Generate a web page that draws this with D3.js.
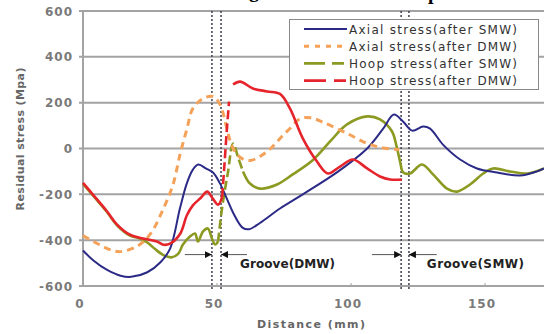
<!DOCTYPE html>
<html>
<head>
<meta charset="utf-8">
<script src="https://cdn.jsdelivr.net/npm/d3@7"></script>
<style>
  body { margin: 0; background: #fff; }
  svg { display: block; }
</style>
</head>
<body>
<div id="viz"></div>
<script>
// chart size
var width = 544, height = 334;

// data
var seriesNames = ["Axial stress(after SMW)", "Axial stress(after DMW)", "Hoop stress(after SMW)", "Hoop stress(after DMW)"];

var axialSmwX = [0, 4, 9, 14, 18, 24, 29, 32.5, 36.2, 38.8, 41, 43, 46, 48.5, 51, 53.7, 56, 59.5, 62, 66, 73.5, 82, 95, 106, 112, 116, 119.4, 122.8, 126.9, 129.5, 134.3, 140.7, 147, 154.5, 163, 169.4, 172];
var axialSmwY = [-445, -490, -530, -555, -560, -540, -495, -437, -260, -150, -92, -70, -88, -105, -150, -220, -280, -345, -352, -325, -262, -200, -102, 0, 87, 148, 118, 78, 96, 87, 17, -48, -87, -105, -118, -100, -87];

var axialDmwX = [0, 6, 11, 14, 20, 25, 30, 33.6, 36.2, 38.8, 41, 44.8, 48.5, 51, 53.7, 55, 57, 59.5, 62.5, 66, 70, 73.5, 77, 81, 85, 90, 98.5, 106, 112, 118];
var axialDmwY = [-380, -419, -445, -450, -428, -375, -262, -157, -26, 87, 175, 218, 227, 195, 87, 30, -20, -45, -52, -35, 0, 44, 85, 130, 134, 112, 66, 22, 2, -4];

var hoopSmwX = [0, 3.7, 9, 12.7, 17.5, 21, 24, 27, 30, 33, 35.5, 37.3, 39.9, 41.8, 42.9, 44.8, 46.6, 48.1, 49.3, 50.4, 52, 54, 56, 58, 59.7, 62.3, 66, 72.4, 78.4, 85.8, 92.2, 98.5, 106, 110.8, 115.3, 117, 118.3, 119.5, 122, 126.5, 130.6, 135.8, 139.6, 144.4, 149.3, 153, 159.3, 165.7, 172];
var hoopSmwY = [-155, -205, -278, -335, -380, -392, -410, -440, -465, -475, -460, -419, -384, -371, -406, -362, -349, -393, -419, -406, -250, -110, 22, -44, -100, -153, -175, -157, -112, -50, 31, 105, 140, 127, 74, 9, -57, -105, -109, -70, -113, -175, -188, -157, -109, -87, -100, -109, -87];

var hoopDmwX = [0, 3.7, 9, 12.7, 17.5, 22.4, 27.6, 30, 32.5, 36.2, 38.8, 41, 44, 46.3, 48.5, 50.4, 51.9, 52.6, 53.7, 54.5, 56, 58.6, 63.4, 68.7, 73.5, 77.2, 82, 87.3, 91.4, 95.9, 100.7, 106, 110.8, 114.6, 119];
var hoopDmwY = [-150, -201, -275, -332, -376, -393, -406, -420, -415, -373, -290, -248, -215, -188, -220, -245, -212, -100, 87, 205, 279, 292, 262, 249, 238, 175, 44, -57, -109, -79, -48, -87, -122, -135, -135];

// x ranges where the steep jumps are drawn dashed
var hoopSmwJump = [50.4, 59.7];
var hoopDmwJump = [51.9, 55];

// groove marks (distance, mm)
var grooveDmw = [48.1, 51.5];
var grooveSmw = [118.7, 121.6];
var grooveLabels = ["Groove(DMW)", "Groove(SMW)"];

var xTicks = [0, 50, 100, 150];
var yTicks = [-600, -400, -200, 0, 200, 400, 600];

var svg = d3.select("#viz")
  .append("svg")
    .attr("width", width)
    .attr("height", height);

var x = d3.scaleLinear().domain([0, 172]).range([83, 544]);
var y = d3.scaleLinear().domain([-600, 600]).range([286, 11]);

// bottom edge of the caption above the chart, cut off by the frame
svg.append("text").attr("x", 249).attr("y", -3)
  .style("font", "bold 20px 'Liberation Serif'").text("g");
svg.append("text").attr("x", 428).attr("y", -1)
  .style("font", "bold 20px 'Liberation Serif'").text("p");

// gridlines
svg.append("g")
  .selectAll("line")
  .data(yTicks)
  .enter()
  .append("line")
    .attr("x1", x(0) - 4)
    .attr("x2", 544)
    .attr("y1", function(d) { return y(d); })
    .attr("y2", function(d) { return y(d); })
    .style("stroke", "#a3a3a3")
    .style("stroke-width", 2);

// left axis line
svg.append("line")
  .attr("x1", x(0)).attr("x2", x(0))
  .attr("y1", y(600)).attr("y2", y(-600))
  .style("stroke", "#a3a3a3").style("stroke-width", 2);

// x ticks
svg.append("g")
  .selectAll("line")
  .data(xTicks)
  .enter()
  .append("line")
    .attr("x1", function(d) { return x(d); })
    .attr("x2", function(d) { return x(d); })
    .attr("y1", y(-600) - 3)
    .attr("y2", y(-600))
    .style("stroke", "#a3a3a3");

// tick labels
svg.append("g")
  .selectAll("text")
  .data(yTicks)
  .enter()
  .append("text")
    .attr("x", 73)
    .attr("y", function(d) { return y(d) + 4.5; })
    .attr("text-anchor", "end")
    .style("font", "bold 12px 'DejaVu Sans'")
    .style("letter-spacing", "1px")
    .style("fill", "#7a7a7a")
    .text(function(d) { return d; });

svg.append("g")
  .selectAll("text")
  .data(xTicks)
  .enter()
  .append("text")
    .attr("x", function(d) { return x(d) - 3; })
    .attr("y", 308)
    .attr("text-anchor", "middle")
    .style("font", "bold 12px 'DejaVu Sans'")
    .style("letter-spacing", "1px")
    .style("fill", "#7a7a7a")
    .text(function(d) { return d; });

// axis titles
svg.append("text")
  .attr("x", 311).attr("y", 328)
  .attr("text-anchor", "middle")
  .attr("textLength", 108)
  .style("font", "bold 11px 'DejaVu Sans'")
  .style("fill", "#666")
  .text("Distance (mm)");

svg.append("text")
  .attr("transform", "translate(24,139) rotate(-90)")
  .attr("text-anchor", "middle")
  .attr("textLength", 143)
  .style("font", "bold 11px 'DejaVu Sans'")
  .style("fill", "#666")
  .text("Residual stress (Mpa)");

// groove dotted lines
svg.append("g")
  .selectAll("line")
  .data(grooveDmw.concat(grooveSmw))
  .enter()
  .append("line")
    .attr("x1", function(d) { return x(d); })
    .attr("x2", function(d) { return x(d); })
    .attr("y1", y(600))
    .attr("y2", y(-600) + 3)
    .style("stroke", "#4a4a5a")
    .style("stroke-width", 1.6)
    .style("stroke-dasharray", "2,2");

// series
function pts(xs, ys) {
  return xs.map(function(v, i) { return [v, ys[i]]; });
}
var line = d3.line()
  .x(function(d) { return x(d[0]); })
  .y(function(d) { return y(d[1]); })
  .curve(d3.curveCatmullRom.alpha(0.5));

function drawSplit(data, jump, color, w) {
  var a = data.filter(function(d) { return d[0] <= jump[0]; });
  var b = data.filter(function(d) { return d[0] >= jump[0] && d[0] <= jump[1]; });
  var c = data.filter(function(d) { return d[0] >= jump[1]; });
  [a, c].forEach(function(part) {
    svg.append("path").datum(part).attr("d", line)
      .style("fill", "none").style("stroke", color)
      .style("stroke-width", w).style("stroke-linejoin", "round");
  });
  svg.append("path").datum(b).attr("d", line)
    .style("fill", "none").style("stroke", color)
    .style("stroke-width", w).style("stroke-dasharray", "9,4");
}

var colors = ["#2b2a86", "#f4a25a", "#8c9a22", "#e5242c"];

drawSplit(pts(hoopSmwX, hoopSmwY), hoopSmwJump, colors[2], 2.6);

svg.append("path")
  .datum(pts(axialSmwX, axialSmwY))
  .attr("d", line)
  .style("fill", "none").style("stroke", colors[0]).style("stroke-width", 2);

svg.append("path")
  .datum(pts(axialDmwX, axialDmwY))
  .attr("d", line)
  .style("fill", "none").style("stroke", colors[1])
  .style("stroke-width", 3).style("stroke-dasharray", "7,5");

drawSplit(pts(hoopDmwX, hoopDmwY), hoopDmwJump, colors[3], 2.6);

// arrows and groove labels
svg.append("defs").append("marker")
  .attr("id", "arr")
  .attr("viewBox", "0 0 10 10")
  .attr("refX", 10).attr("refY", 5)
  .attr("markerWidth", 7).attr("markerHeight", 7)
  .attr("markerUnits", "userSpaceOnUse")
  .attr("orient", "auto")
  .append("path").attr("d", "M0,0L10,5L0,10z").style("fill", "#111");

var arrowY = -463;
[[38, grooveDmw[0]], [61.2, grooveDmw[1]], [107.8, grooveSmw[0]], [132, grooveSmw[1]]].forEach(function(a) {
  svg.append("line")
    .attr("x1", x(a[0])).attr("x2", x(a[1]))
    .attr("y1", y(arrowY)).attr("y2", y(arrowY))
    .style("stroke", "#555").style("stroke-width", 1)
    .attr("marker-end", "url(#arr)");
});

svg.append("text").attr("x", x(58.6)).attr("y", 268)
  .attr("textLength", 95)
  .style("font", "bold 12px 'DejaVu Sans'").style("fill", "#222")
  .text(grooveLabels[0]);
svg.append("text").attr("x", x(128.3)).attr("y", 268)
  .attr("textLength", 97)
  .style("font", "bold 12px 'DejaVu Sans'").style("fill", "#222")
  .text(grooveLabels[1]);

// legend
var legend = svg.append("g");
legend.append("rect")
  .attr("x", 289.5).attr("y", 19.5)
  .attr("width", 249).attr("height", 70)
  .style("fill", "#fff").style("stroke", "#888").style("stroke-width", 1);

var legendDash = [null, "5,6", "21,7,12", "22,8,12"];
var legendWidth = [2, 3, 2.6, 2.6];
seriesNames.forEach(function(name, i) {
  var ly = 29 + i * 17.2;
  legend.append("line")
    .attr("x1", 304).attr("x2", 347)
    .attr("y1", ly).attr("y2", ly)
    .style("stroke", colors[i])
    .style("stroke-width", legendWidth[i])
    .style("stroke-dasharray", legendDash[i]);
  legend.append("text")
    .attr("x", 349).attr("y", ly + 4.5)
    .attr("textLength", 168)
    .style("font", "12px 'DejaVu Sans'")
    .style("fill", "#333")
    .text(name);
});
</script>
</body>
</html>
